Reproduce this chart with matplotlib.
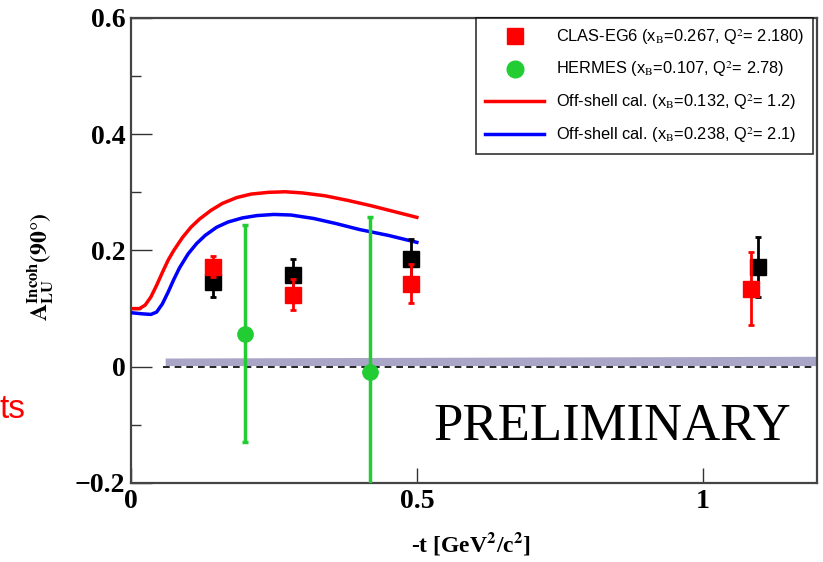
import numpy as np
import matplotlib
matplotlib.use("Agg")
import matplotlib.pyplot as plt
from matplotlib.lines import Line2D

# CLAS-EG6 points (red) and second set (black)
clas_t = [0.143, 0.283, 0.49, 1.084]
clas_a = [0.172, 0.124, 0.143, 0.134]
clas_err = [0.018, 0.027, 0.033, 0.063]

black_t = [0.143, 0.283, 0.49, 1.096]
black_a = [0.145, 0.157, 0.186, 0.172]
black_err = [0.025, 0.029, 0.034, 0.052]

# HERMES points
herm_t = [0.20, 0.418]
herm_a = [0.057, -0.009]
herm_err = [0.186, 0.267]

# off-shell calculations
red_t = [0.0, 0.015, 0.025, 0.035, 0.045, 0.055, 0.065, 0.075, 0.09, 0.105,
         0.12, 0.14, 0.16, 0.185, 0.21, 0.24, 0.27, 0.30, 0.34, 0.38, 0.42,
         0.46, 0.50]
red_a = [0.100, 0.100, 0.106, 0.120, 0.140, 0.162, 0.183, 0.200, 0.222, 0.240,
         0.254, 0.269, 0.281, 0.291, 0.297, 0.300, 0.301, 0.299, 0.294, 0.286,
         0.277, 0.267, 0.257]
blue_t = [0.0, 0.02, 0.035, 0.045, 0.055, 0.065, 0.075, 0.085, 0.10, 0.115,
          0.13, 0.15, 0.17, 0.195, 0.22, 0.25, 0.28, 0.32, 0.36, 0.40, 0.45,
          0.50]
blue_a = [0.093, 0.091, 0.090, 0.094, 0.108, 0.128, 0.150, 0.170, 0.194, 0.212,
          0.226, 0.240, 0.249, 0.256, 0.260, 0.262, 0.261, 0.255, 0.246, 0.236,
          0.226, 0.214]

# systematic band
band_t = [0.06, 1.2]
band_lo = [0.002, 0.002]
band_hi = [0.015, 0.018]

plt.rcParams['mathtext.fontset'] = 'stix'

fig = plt.figure(figsize=(8.23, 5.62), dpi=100)
ax = fig.add_axes([0.159, 0.1406, 0.834, 0.8274])

ax.fill_between(band_t, band_lo, band_hi, color='#a9a5c6', lw=0, zorder=1)
ax.plot([0.057, 1.2], [0, 0], color='black', ls=(0, (4, 3)), lw=1.2, zorder=2)

ax.plot(red_t, red_a, color='#ff0000', lw=2.5, zorder=3)
ax.plot(blue_t, blue_a, color='#0000ff', lw=2.5, zorder=3)

ax.errorbar(herm_t, herm_a, yerr=herm_err, fmt='o', color='#22cc33', ms=11,
            elinewidth=2.5, capsize=2, capthick=2.5, zorder=4)
ax.errorbar(black_t, black_a, yerr=black_err, fmt='s', color='black', ms=11,
            elinewidth=2, capsize=2, capthick=2, zorder=5)
ax.errorbar(clas_t, clas_a, yerr=clas_err, fmt='s', color='#ff0000', ms=11,
            elinewidth=2, capsize=2, capthick=2, zorder=6)

ax.set_xlim(0, 1.2)
ax.set_ylim(-0.2, 0.6)
ax.set_xticks([0, 0.5, 1])
ax.set_xticklabels(['0', '0.5', '1'])
ax.set_yticks([-0.2, 0, 0.2, 0.4, 0.6])
ax.set_yticklabels(['\u22120.2', '0', '0.2', '0.4', '0.6'])
ax.set_yticks([-0.1, 0.1, 0.3, 0.5], minor=True)
ax.tick_params(axis='y', which='major', direction='in', length=15, width=1,
               color='#333333', pad=4, right=False)
ax.tick_params(axis='y', which='minor', direction='in', length=7.5, width=1,
               color='#333333')
ax.tick_params(axis='x', which='major', direction='in', length=11, width=1,
               color='#333333', pad=4, top=False)
for lab in ax.get_xticklabels() + ax.get_yticklabels():
    lab.set_fontfamily('Liberation Serif')
    lab.set_fontweight('bold')
    lab.set_fontsize(20)
for sp in ax.spines.values():
    sp.set_color('#444444')
    sp.set_linewidth(1.6)

handles = [
    Line2D([], [], ls='none', marker='s', color='#ff0000', ms=12),
    Line2D([], [], ls='none', marker='o', color='#22cc33', ms=12),
    Line2D([], [], color='#ff0000', lw=2.5),
    Line2D([], [], color='#0000ff', lw=2.5),
]
labels = [
    'CLAS-EG6 (x$_\\mathrm{B}$=0.267, Q$^2$= 2.180)',
    'HERMES (x$_\\mathrm{B}$=0.107, Q$^2$= 2.78)',
    'Off-shell cal. (x$_\\mathrm{B}$=0.132, Q$^2$= 1.2)',
    'Off-shell cal. (x$_\\mathrm{B}$=0.238, Q$^2$= 2.1)',
]
leg = ax.legend(handles, labels, loc='upper right',
                bbox_to_anchor=(0.994, 1.0), borderaxespad=0,
                frameon=True, fancybox=False, edgecolor='black',
                handlelength=3.6, handletextpad=0.7, labelspacing=0.8,
                borderpad=0.55,
                prop={'family': 'Liberation Sans', 'size': 11.8})
leg.get_frame().set_linewidth(1.2)

ax.text(0.962, 0.092, 'PRELIMINARY', transform=ax.transAxes, ha='right',
        va='baseline', fontsize=38, family='Liberation Serif', color='black')

fig.text(0.05, 0.525, '$\\mathbf{A_{LU}^{Incoh}(90\\degree)}$', rotation=90,
         ha='center', va='center', fontsize=17)
fig.text(0.572, 0.018, '-t [GeV$^\\mathbf{2}$/c$^\\mathbf{2}$]', ha='center',
         va='baseline', fontsize=17, family='Liberation Serif', weight='bold')
fig.text(0.0, 0.256, 'ts', color='#ff0000', fontsize=24,
         family='Liberation Sans', va='baseline')

fig.savefig('out.png', dpi=100)
